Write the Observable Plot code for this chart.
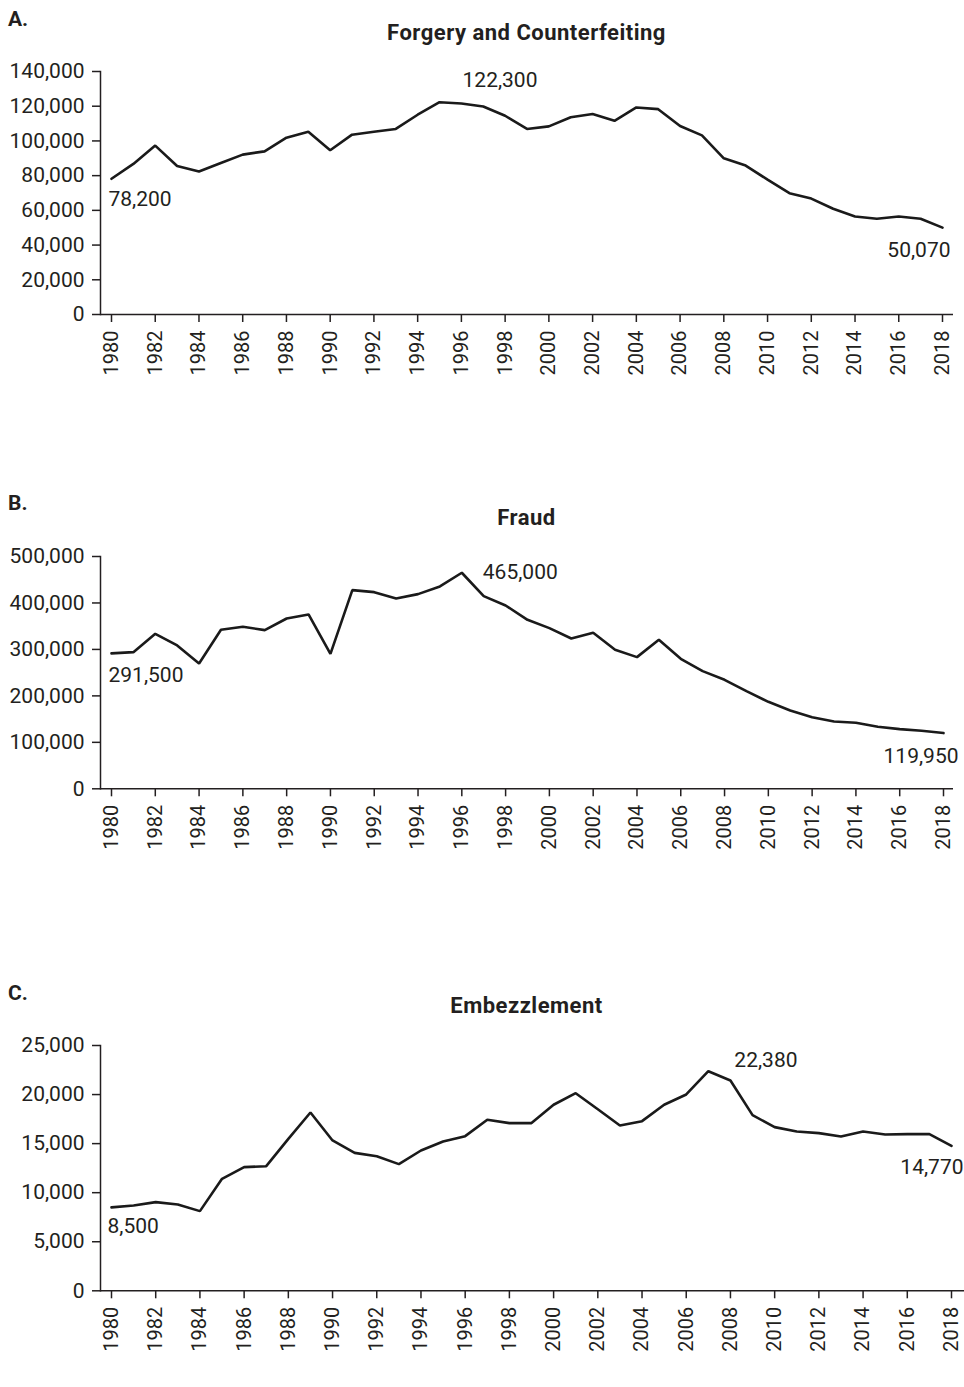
<!DOCTYPE html>
<html>
<head>
<meta charset="utf-8">
<script src="https://cdn.jsdelivr.net/npm/d3@7"></script>
<script src="https://cdn.jsdelivr.net/npm/@observablehq/plot@0.6"></script>
<style>
  html, body { margin: 0; padding: 0; background: #fff; }
  body { width: 964px; height: 1387px; position: relative; font-family: Roboto, "Noto Sans", sans-serif; color: #231f20; }
  .panel { position: absolute; left: 0; width: 964px; }
  .letter { position: absolute; left: 8px; font-weight: 700; font-size: 21px; line-height: 26px; }
  .title { position: absolute; left: 100px; width: 853px; text-align: center; font-weight: 700; font-size: 22px; line-height: 26px; letter-spacing: 0.5px; }
</style>
</head>
<body>
<div id="root"></div>
<script>
// ---- data ----
const years = [1980,1981,1982,1983,1984,1985,1986,1987,1988,1989,1990,1991,1992,1993,1994,1995,1996,1997,1998,1999,2000,2001,2002,2003,2004,2005,2006,2007,2008,2009,2010,2011,2012,2013,2014,2015,2016,2017,2018];
const xTickYears = [1980,1982,1984,1986,1988,1990,1992,1994,1996,1998,2000,2002,2004,2006,2008,2010,2012,2014,2016,2018];

const forgery = [78200,86750,97300,85600,82350,87300,92100,94000,101900,105300,94600,103600,105300,106900,115100,122300,121600,119800,114500,106900,108400,113600,115500,111600,119300,118300,108600,103200,90000,85800,77700,69900,66800,60900,56500,55200,56500,55200,50070];
const fraud = [291500,294100,333600,308500,269700,342200,348700,341500,366600,375200,290500,427600,423300,409600,419000,435500,465000,414700,394600,363700,345800,323500,335700,299200,283400,320700,279800,253200,234600,210200,187200,168600,154200,144900,142000,133400,128400,124800,119950];
const embezzlement = [8500,8700,9040,8800,8120,11410,12600,12700,15490,18170,15320,14060,13720,12910,14300,15220,15760,17430,17090,17090,18960,20140,18510,16850,17290,18960,20010,22380,21430,17900,16680,16240,16070,15730,16240,15930,15970,15970,14770];

const forgeryTicks = [0,20000,40000,60000,80000,100000,120000,140000];
const fraudTicks = [0,100000,200000,300000,400000,500000];
const embezzlementTicks = [0,5000,10000,15000,20000,25000];

const forgeryNotes = [1980, 1995, 2018];
const fraudNotes = [1980, 1996, 2018];
const embezzlementNotes = [1980, 2007, 2018];

const panelLetters = ["A.", "B.", "C."];
const panelTitles = ["Forgery and Counterfeiting", "Fraud", "Embezzlement"];

// ---- drawing ----
const fmt = d3.format(",");
const ink = "#231f20";
const root = document.getElementById("root");

function panel(cfg) {
  const data = years.map((y, i) => ({year: y, value: cfg.values[i]}));
  const noteMarks = cfg.notes.map((yr, k) => {
    const d = data.find(e => e.year === yr);
    const st = cfg.noteStyle[k];
    return Plot.text([d], {x: "year", y: "value", text: e => fmt(e.value),
      dx: st.dx, dy: st.dy, textAnchor: st.anchor, fontSize: 21, fill: ink});
  });
  const chart = Plot.plot({
    width: 964,
    height: cfg.height,
    marginLeft: 100,
    marginRight: cfg.marginRight,
    marginTop: cfg.marginTop,
    marginBottom: cfg.marginBottom,
    x: {domain: [1980, 2018], insetLeft: 11, insetRight: cfg.insetRight, label: null},
    y: {domain: cfg.yDomain, label: null},
    style: {fontFamily: "Roboto, sans-serif", color: ink, background: "transparent", overflow: "visible"},
    marks: [
      Plot.axisY({ticks: cfg.yTicks, tickFormat: fmt, tickSize: 8, tickPadding: 8, fontSize: 21, strokeWidth: 1.5, label: null}),
      Plot.axisX({ticks: xTickYears, tickFormat: d => String(d), tickRotate: -90, tickSize: 8, tickPadding: 8, fontSize: 20, strokeWidth: 1.5, label: null}),
      Plot.ruleY([0], {stroke: ink, strokeWidth: 1.5}),
      Plot.frame({anchor: "left", stroke: ink, strokeWidth: 1.5}),
      Plot.line(data, {x: "year", y: "value", stroke: "#1a1a1a", strokeWidth: 2.6, strokeLinejoin: "miter"}),
      ...noteMarks
    ]
  });
  const wrap = document.createElement("div");
  wrap.className = "panel";
  wrap.style.top = cfg.top + "px";
  wrap.appendChild(chart);
  root.appendChild(wrap);

  const letter = document.createElement("div");
  letter.className = "letter";
  letter.style.top = cfg.letterTop + "px";
  letter.textContent = cfg.letter;
  root.appendChild(letter);

  const title = document.createElement("div");
  title.className = "title";
  title.style.top = cfg.titleTop + "px";
  title.textContent = cfg.title;
  root.appendChild(title);
}

panel({
  top: 0, height: 390, marginTop: 71, marginBottom: 76, marginRight: 11, insetRight: 11,
  yDomain: [0, 140000], yTicks: forgeryTicks, values: forgery, notes: forgeryNotes,
  noteStyle: [{dx: -3, dy: 20, anchor: "start"}, {dx: 23, dy: -22, anchor: "start"}, {dx: 8, dy: 23, anchor: "end"}],
  letter: panelLetters[0], title: panelTitles[0], letterTop: 6, titleTop: 20
});
panel({
  top: 480, height: 400, marginTop: 76, marginBottom: 91.7, marginRight: 11, insetRight: 10,
  yDomain: [0, 500000], yTicks: fraudTicks, values: fraud, notes: fraudNotes,
  noteStyle: [{dx: -3, dy: 22, anchor: "start"}, {dx: 21, dy: 0, anchor: "start"}, {dx: 15, dy: 23, anchor: "end"}],
  letter: panelLetters[1], title: panelTitles[1], letterTop: 490, titleTop: 505
});
panel({
  top: 980, height: 400, marginTop: 65, marginBottom: 89.7, marginRight: 0, insetRight: 13,
  yDomain: [0, 25000], yTicks: embezzlementTicks, values: embezzlement, notes: embezzlementNotes,
  noteStyle: [{dx: -4, dy: 19, anchor: "start"}, {dx: 26, dy: -11, anchor: "start"}, {dx: 12, dy: 21, anchor: "end"}],
  letter: panelLetters[2], title: panelTitles[2], letterTop: 980, titleTop: 993
});
</script>
</body>
</html>
